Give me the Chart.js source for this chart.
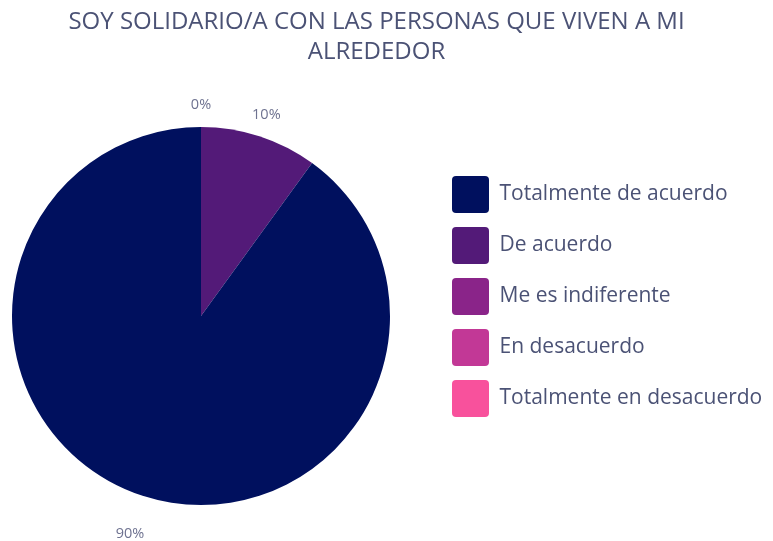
<!DOCTYPE html>
<html>
<head>
<meta charset="utf-8">
<script src="https://cdn.jsdelivr.net/npm/chart.js@4/dist/chart.umd.min.js"></script>
<style>
  html, body { margin: 0; padding: 0; background: #fff; }
  #wrap { width: 773px; height: 541px; }
</style>
</head>
<body>
<div id="wrap"><canvas id="solidarioChart" width="773" height="541"></canvas></div>
<script>
const categories = [
  "Totalmente de acuerdo",
  "De acuerdo",
  "Me es indiferente",
  "En desacuerdo",
  "Totalmente en desacuerdo",
];
const percentages = [90, 10, 0, 0, 0];
const sliceColors = ["#00105E", "#531A78", "#8A2489", "#C23896", "#F8519C"];
const titleLines = ["SOY SOLIDARIO/A CON LAS PERSONAS QUE VIVEN A MI", "ALREDEDOR"];

const FONT = "'Open Sans', sans-serif";
const TEXT_COLOR = "#4B5275";

// pie goes clockwise from 12 o'clock with the zero slices first, so reverse
const pieLabels = categories.slice().reverse();
const pieValues = percentages.slice().reverse();
const pieColors = sliceColors.slice().reverse();

// move the legend to the right spot and keep the pie on the left
const placeLegend = {
  id: "placeLegend",
  afterLayout(chart) {
    const ca = chart.chartArea;
    ca.left = 0;
    ca.right = 402;
    ca.width = ca.right - ca.left;

    const leg = chart.legend;
    leg.left = 438;
    leg.right = chart.width;
    leg.width = leg.right - leg.left;
    leg.top = 162;
    leg.bottom = chart.height;
    leg.height = leg.bottom - leg.top;
  },
};

// percentage labels outside the pie (zero slices share one spot, draw it once)
const outsideLabels = {
  id: "outsideLabels",
  afterDatasetsDraw(chart) {
    const ctx = chart.ctx;
    const meta = chart.getDatasetMeta(0);
    const done = {};
    ctx.save();
    ctx.font = "14.5px " + FONT;
    ctx.fillStyle = "#6E7290";
    ctx.textAlign = "center";
    ctx.textBaseline = "middle";
    meta.data.forEach((arc, i) => {
      const mid = (arc.startAngle + arc.endAngle) / 2;
      const fromTop = mid + Math.PI / 2;
      const r = arc.outerRadius + 22 + 19 * (1 - Math.cos(fromTop)) / 2;
      const x = arc.x + Math.cos(mid) * r;
      const y = arc.y + Math.sin(mid) * r;
      const key = Math.round(x) + "," + Math.round(y);
      if (done[key]) return;
      done[key] = true;
      ctx.fillText(pieValues[i] + "%", x, y);
    });
    ctx.restore();
  },
};

const ctx = document.getElementById("solidarioChart").getContext("2d");

new Chart(ctx, {
  type: "pie",
  data: {
    labels: pieLabels,
    datasets: [
      {
        data: pieValues,
        backgroundColor: pieColors,
        borderWidth: 0,
      },
    ],
  },
  options: {
    responsive: false,
    animation: false,
    layout: {
      padding: { left: 0, right: 20, top: 0, bottom: 36 },
    },
    plugins: {
      title: {
        display: true,
        text: titleLines,
        color: TEXT_COLOR,
        font: { family: FONT, size: 24, weight: "normal", lineHeight: 1.25 },
        padding: { top: 7, bottom: 60 },
      },
      legend: {
        position: "right",
        align: "start",
        reverse: true,
        labels: {
          boxWidth: 37,
          boxHeight: 37,
          padding: 14,
          useBorderRadius: true,
          borderRadius: 4,
          color: TEXT_COLOR,
          font: { family: FONT, size: 21 },
        },
      },
      tooltip: { enabled: false },
    },
  },
  plugins: [placeLegend, outsideLabels],
});
</script>
</body>
</html>
